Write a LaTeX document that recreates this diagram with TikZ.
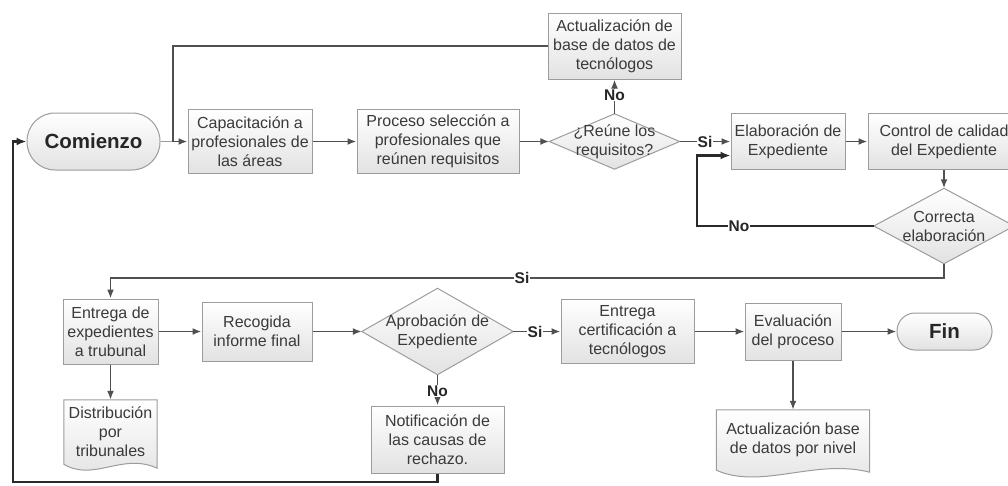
\documentclass[tikz,border=0pt]{standalone}
\usepackage{fontspec}
\setmainfont{Liberation Sans}
\usetikzlibrary{arrows.meta,calc,backgrounds}
\definecolor{txt}{HTML}{3A3A3A}
\definecolor{bord}{HTML}{9C9C9C}
\definecolor{fillb}{HTML}{E2E2E2}
\definecolor{ln}{HTML}{505050}
\definecolor{lnk}{HTML}{2A2A2A}
\begin{document}
\begin{tikzpicture}[x=1pt,y=-1pt,
  every node/.style={font=\fontsize{16}{19}\selectfont, text=txt},
  box/.style={rectangle, draw=bord, line width=1pt, top color=white, bottom color=fillb, align=center, inner sep=0pt},
  term/.style={box, rounded corners=#1, font=\bfseries\fontsize{20.5}{24}\selectfont, text=black!85},
  dtext/.style={rectangle, draw=none, align=center, inner sep=0pt},
  shp/.style={draw=bord, line width=1pt, top color=white, bottom color=fillb},
  arr/.style={draw=ln, line width=1.9pt, -{Latex[length=9pt,width=7pt]}},
  arrk/.style={draw=lnk, line width=2.3pt, -{Latex[length=10pt,width=8pt]}},
  thinln/.style={draw=bord, line width=1.3pt},
  lbl/.style={fill=white, inner sep=1pt, font=\bfseries\fontsize{15.5}{18}\selectfont, text=black!85}
]
\useasboundingbox (0,0) rectangle (1008,485);

% nodes
\node[term=28pt, minimum width=133pt, minimum height=57pt] (com) at (93.5,141.5) {Comienzo};
\node[box, minimum width=124pt, minimum height=64pt] (cap) at (250,141.5) {Capacitación a\\profesionales de\\las áreas};
\node[box, minimum width=162pt, minimum height=64pt] (proc) at (438,141.5) {Proceso selección a\\profesionales que\\reúnen requisitos};
\node[dtext, minimum width=130pt, minimum height=55pt] (reune) at (614.5,141.5) {¿Reúne los\\requisitos?};
\node[box, minimum width=133pt, minimum height=66pt] (act) at (614.5,46) {Actualización de\\base de datos de\\tecnólogos};
\node[box, minimum width=114pt, minimum height=56pt] (elab) at (788,141.5) {Elaboración de\\Expediente};
\node[box, minimum width=152pt, minimum height=56pt] (ctrl) at (944,141.5) {Control de calidad\\del Expediente};
\node[dtext, minimum width=140pt, minimum height=75pt] (corr) at (944,226) {Correcta\\elaboración};
\node[box, minimum width=95pt, minimum height=65pt] (ent) at (110.5,331.5) {Entrega de\\expedientes\\a trubunal};
\node[dtext, minimum width=93pt, minimum height=64pt] (dist) at (110.5,432) {Distribución\\por\\tribunales};
\node[box, minimum width=110pt, minimum height=59pt] (rec) at (257,331.5) {Recogida\\informe final};
\node[dtext, minimum width=151pt, minimum height=86pt] (aprob) at (437.5,331.5) {Aprobación de\\Expediente};
\node[box, minimum width=133pt, minimum height=67pt] (notif) at (437.5,439.5) {Notificación de\\las causas de\\rechazo.};
\node[box, minimum width=133pt, minimum height=64pt] (entc) at (627.5,331.5) {Entrega\\certificación a\\tecnólogos};
\node[box, minimum width=96pt, minimum height=57pt] (eval) at (793,331.5) {Evaluación\\del proceso};
\node[term=18pt, minimum width=95pt, minimum height=37pt] (fin) at (944.5,331.5) {Fin};
\node[dtext, minimum width=153pt, minimum height=60pt] (actn) at (793,440) {Actualización base\\de datos por nivel};

% shapes behind text
\begin{scope}[on background layer]
  \path[shp] (reune.west) -- (reune.north) -- (reune.east) -- (reune.south) -- cycle;
  \path[shp] (corr.west) -- (corr.north) -- (corr.east) -- (corr.south) -- cycle;
  \path[shp] (aprob.west) -- (aprob.north) -- (aprob.east) -- (aprob.south) -- cycle;
  \path[shp] (dist.north west) -- (dist.north east) -- ($(dist.south east)+(0,4)$)
     .. controls ($(dist.south east)+(-35,-12)$) and ($(dist.south west)+(30,18)$) .. (dist.south west) -- cycle;
  \path[shp] (actn.north west) -- (actn.north east) -- ($(actn.south east)+(0,2)$)
     .. controls ($(actn.south east)+(-55,-12)$) and ($(actn.south west)+(45,20)$) .. (actn.south west) -- cycle;
\end{scope}

% helper coordinates
\coordinate (j1) at (173,141.5);
\coordinate (nb) at (697,226);
\coordinate (sj) at (500,278);
\coordinate (bl) at (13,482);

% connectors
\draw[thinln] (com.east) -- (j1);
\draw[arr] (act.west) -| (j1) -- (cap.west);
\draw[arr] (cap) -- (proc);
\draw[arr] (proc.east) -- (reune.west);
\draw[arr] (reune.north) -- (act.south);
\draw[arr] (reune.east) -- (elab.west);
\draw[arr] (elab) -- (ctrl);
\draw[arr] (ctrl.south) -- (corr.north);
\draw[arrk] (corr.west) -- (nb) |- ($(elab.west)+(0,14)$);
\draw[arr] (corr.south) |- (sj) -| (ent.north);
\draw[arr] (ent.south) -- (dist.north);
\draw[arr] (ent) -- (rec);
\draw[arr] (rec.east) -- (aprob.west);
\draw[arr] (aprob.east) -- (entc.west);
\draw[arr] (aprob.south) -- (notif.north);
\draw[arr] (entc) -- (eval);
\draw[arr] (eval) -- (fin);
\draw[arr] (eval.south) -- (actn.north);
\draw[arrk] (notif.south) |- (bl) |- (com.west);

% labels
\node[lbl] (l1) at (614.5,95) {No};
\node[lbl] (l2) at (705,141.5) {Si};
\node[lbl] (l3) at (739,226) {No};
\node[lbl] (l4) at (522,278) {Si};
\node[lbl] (l5) at (535,331.5) {Si};
\node[lbl] (l6) at (437.5,391) {No};
\end{tikzpicture}
\end{document}
